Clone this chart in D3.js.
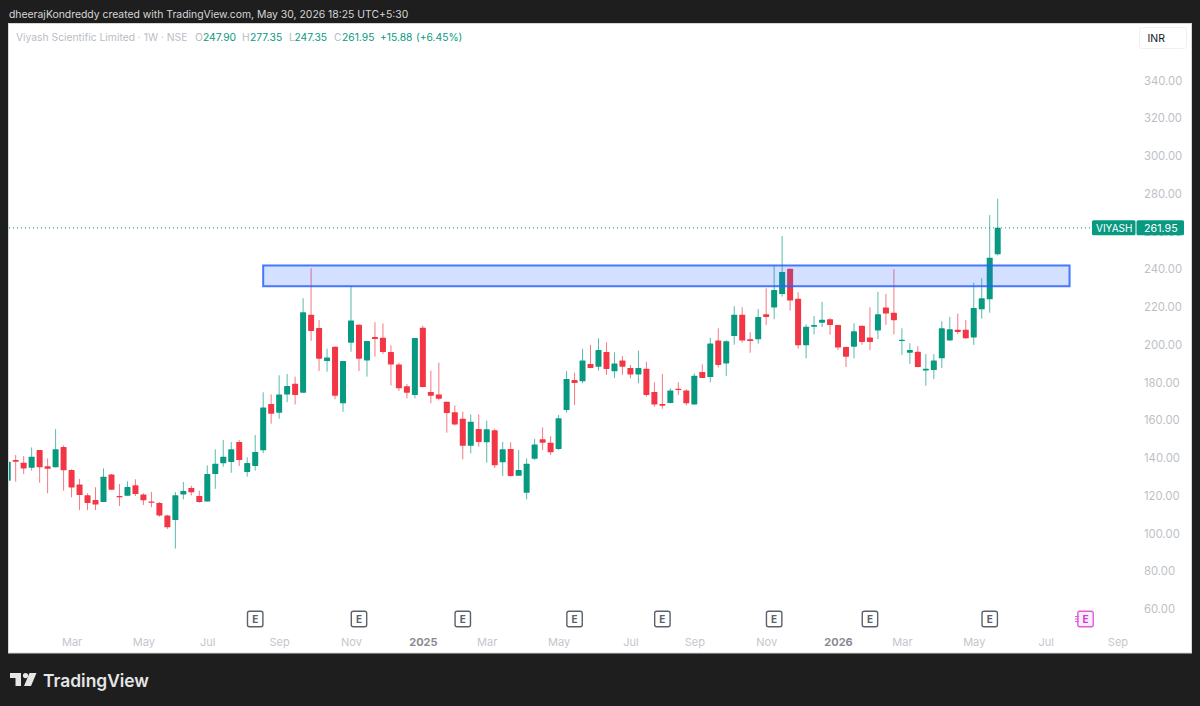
<!DOCTYPE html>
<html>
<head>
<meta charset="utf-8">
<script src="https://cdn.jsdelivr.net/npm/d3@7/dist/d3.min.js"></script>
<style>
  html, body { margin: 0; padding: 0; background: #1e1e1e; }
  svg { display: block; font-family: Inter, "Noto Sans", sans-serif; }
</style>
</head>
<body>
<script>
// weekly candles, bar 0 = Jan 2024, last bar = week of May 25 2026
const opens = [128.0,138.9,137.5,134.9,144.2,135.6,135.1,145.8,133.6,125.9,120.2,117.7,116.7,131.3,119.9,120.0,125.5,120.7,117.0,116.2,109.6,107.1,120.7,124.1,119.9,
  116.9,131.5,137.2,137.9,148.5,132.6,135.8,144.1,168.6,164.0,173.6,179.4,174.6,215.9,208.9,191.4,199.0,169.0,201.1,210.6,191.7,204.1,203.7,196.2,189.6,
  178.0,173.4,209.0,175.0,173.6,169.8,164.2,160.8,146.5,155.4,148.3,154.7,137.7,144.8,130.6,121.6,139.6,149.9,148.1,144.8,165.4,181.3,180.6,189.8,188.4,
  196.2,185.9,191.6,187.7,184.3,187.3,175.0,168.6,169.1,176.7,175.7,168.4,185.6,182.9,202.3,190.1,204.6,215.9,202.9,202.9,216.1,219.8,226.9,240.3,224.4,
  199.7,209.6,211.7,213.5,210.5,198.8,199.0,210.1,203.8,207.6,219.8,217.0,202.0,195.8,196.3,186.3,186.6,192.8,202.3,208.0,208.0,203.9,218.8,224.1,247.9];
const highs = [139.5,141.6,141.0,145.6,144.2,139.8,155.3,146.7,134.0,128.9,121.3,124.5,134.5,131.5,126.2,127.6,128.7,121.3,122.0,116.7,110.0,122.0,127.3,125.3,122.7,
  136.1,144.6,149.5,148.5,149.5,140.4,152.2,174.8,173.7,183.8,184.5,183.1,224.6,240.5,213.1,197.9,199.0,191.4,231.1,210.8,202.0,211.9,211.3,199.7,190.5,
  179.2,203.6,210.1,186.3,190.5,169.8,167.9,164.5,163.1,163.1,159.8,155.5,148.5,148.3,144.2,139.8,150.1,156.2,151.5,162.8,186.1,185.2,197.9,199.9,203.4,
  201.3,196.0,194.0,189.3,196.9,191.0,180.1,184.5,176.9,180.1,176.4,184.9,189.6,203.7,208.7,202.5,220.5,219.8,206.6,218.9,229.9,241.7,257.6,240.3,227.8,
  210.8,215.2,222.7,214.0,210.6,199.0,211.4,210.1,219.8,228.1,226.9,240.0,208.7,200.8,199.3,195.1,195.1,212.4,214.7,216.5,213.1,232.9,235.2,268.7,277.35];
const lows = [127.5,127.5,131.5,133.3,126.9,121.3,135.0,122.7,119.2,112.4,112.4,112.4,116.7,123.0,114.6,119.9,119.9,115.1,113.9,108.9,102.4,92.0,118.1,120.2,116.3,
  116.9,123.7,135.4,132.2,135.8,130.1,133.3,142.5,158.2,160.8,169.5,168.4,174.6,202.0,186.1,185.7,171.1,164.5,196.3,186.1,183.1,193.7,195.1,178.5,175.5,
  171.6,171.6,177.4,169.0,170.6,153.4,157.3,139.3,142.5,146.0,137.5,134.7,130.5,130.1,130.5,118.1,138.9,144.2,141.6,144.2,164.0,168.1,179.6,187.5,186.3,
  184.1,182.4,184.1,182.2,179.6,172.5,167.2,166.1,169.0,173.4,167.9,168.3,182.4,180.1,187.9,183.4,200.0,201.1,195.8,200.6,210.5,213.5,225.5,218.1,197.9,
  192.8,205.5,209.4,205.3,197.2,188.2,192.8,200.0,197.1,203.0,210.5,205.5,194.6,189.8,188.0,178.3,181.7,187.7,202.2,205.5,203.2,199.9,213.8,217.0,247.35];
const closes = [138.0,138.0,134.5,140.7,135.1,134.3,144.7,133.5,124.4,120.4,116.2,115.3,130.1,123.2,119.2,124.6,120.9,117.6,116.3,109.6,103.3,120.2,122.5,121.8,116.7,
  131.5,137.0,140.7,144.6,138.9,137.3,143.2,166.7,163.5,173.6,178.1,173.4,217.2,207.3,192.6,193.3,173.0,191.4,212.9,192.6,202.0,203.0,196.2,189.6,176.9,
  174.6,203.6,177.6,173.0,171.4,163.8,157.8,146.5,159.2,148.5,155.2,136.1,144.6,130.5,133.6,137.0,147.2,148.1,143.0,161.0,181.9,179.7,191.7,187.7,197.2,
  187.2,190.1,188.4,184.3,187.7,173.4,168.3,167.7,175.7,176.0,169.0,183.6,182.4,200.6,189.3,201.8,215.9,202.2,202.0,214.7,214.7,229.0,238.6,223.4,199.7,
  209.6,210.5,213.3,210.5,198.5,193.7,207.1,201.5,201.5,216.1,216.5,213.0,202.7,197.2,188.2,187.3,191.7,208.7,208.2,206.8,203.4,219.5,224.6,246.1,261.95];

const priceTicks = [60,80,100,120,140,160,180,200,220,240,260,280,300,320,340];
const timeTickBars = [8,17,25,34,43,52,60,69,78,86,95,104,112,121,130,139];
const timeTickLabels = ['Mar','May','Jul','Sep','Nov','2025','Mar','May','Jul','Sep','Nov','2026','Mar','May','Jul','Sep'];
const yearLabels = ['2025','2026'];
const earningsBars = [31,44,57,71,82,96,108,123];
const nextEarningsBar = 135;
const zoneTop = 242, zoneBottom = 231, zoneStartBar = 32, zoneEndBar = 133;
const lastPrice = 261.95;

const bars = d3.range(opens.length);
const green = '#089981', red = '#f23645';

const svg = d3.select('body').append('svg')
  .attr('width', 1200)
  .attr('height', 706);

const x = d3.scaleLinear().domain([0, 124]).range([7.7, 997.7]);
const y = d3.scaleLinear().domain([60, 340]).range([609, 80.5]);

// panel
svg.append('rect').attr('width', 1200).attr('height', 706).attr('fill', '#1e1e1e');
svg.append('rect')
  .attr('x', 8.5).attr('y', 23.5)
  .attr('width', 1183).attr('height', 629.5)
  .attr('fill', '#fff')
  .attr('stroke', '#d6d6d6');

svg.append('clipPath').attr('id', 'pane')
  .append('rect').attr('x', 9).attr('y', 24).attr('width', 1182).attr('height', 629);

svg.append('text')
  .attr('x', 9).attr('y', 17.5)
  .attr('fill', '#d6d6d6')
  .attr('font-size', 10.4)
  .text('dheerajKondreddy created with TradingView.com, May 30, 2026 18:25 UTC+5:30');

const pane = svg.append('g').attr('clip-path', 'url(#pane)');

// last price line
pane.append('line')
  .attr('x1', 9).attr('x2', 1092)
  .attr('y1', y(lastPrice)).attr('y2', y(lastPrice))
  .attr('stroke', green)
  .attr('stroke-width', 1)
  .attr('stroke-dasharray', '1 3');

// candles
const candle = pane.selectAll('.candle').data(bars).enter().append('g')
  .attr('class', 'candle')
  .attr('fill', i => closes[i] >= opens[i] ? green : red)
  .attr('stroke', i => closes[i] >= opens[i] ? green : red);

candle.append('line')
  .attr('x1', i => x(i)).attr('x2', i => x(i))
  .attr('y1', i => y(highs[i])).attr('y2', i => y(lows[i]))
  .attr('stroke-width', 0.9)
  .attr('stroke-opacity', 0.75);

candle.append('rect')
  .attr('x', i => x(i) - 3)
  .attr('width', 6)
  .attr('y', i => y(Math.max(opens[i], closes[i])))
  .attr('height', i => Math.max(1.2, Math.abs(y(opens[i]) - y(closes[i]))))
  .attr('rx', 0.6)
  .attr('stroke', 'none');

// supply zone
pane.append('rect')
  .attr('x', x(zoneStartBar)).attr('width', x(zoneEndBar) - x(zoneStartBar))
  .attr('y', y(zoneTop)).attr('height', y(zoneBottom) - y(zoneTop))
  .attr('fill', 'rgba(41,98,255,0.2)')
  .attr('stroke', '#2962ff')
  .attr('stroke-opacity', 0.85)
  .attr('stroke-width', 2);

// price axis
const priceAxis = svg.append('g')
  .attr('transform', 'translate(1144,0)')
  .call(d3.axisRight(y).tickValues(priceTicks).tickSize(0).tickPadding(0).tickFormat(d => d.toFixed(2)));
priceAxis.select('.domain').remove();
priceAxis.selectAll('text')
  .attr('fill', '#bdbfc6')
  .attr('font-family', 'Inter, sans-serif')
  .attr('font-size', 11.3);

// time axis
const timeAxis = svg.append('g')
  .attr('transform', 'translate(0,638.5)')
  .call(d3.axisBottom(x).tickValues(timeTickBars).tickSize(0).tickPadding(0)
    .tickFormat((d, i) => timeTickLabels[i]));
timeAxis.select('.domain').remove();
timeAxis.selectAll('text')
  .attr('fill', d => yearLabels.includes(timeTickLabels[timeTickBars.indexOf(d)]) ? '#888b94' : '#c4c6cd')
  .attr('font-weight', d => yearLabels.includes(timeTickLabels[timeTickBars.indexOf(d)]) ? 700 : 400)
  .attr('font-family', 'Inter, sans-serif')
  .attr('font-size', 11);

// earnings markers
const eMark = svg.selectAll('.earn').data(earningsBars).enter().append('g')
  .attr('class', 'earn')
  .attr('transform', d => `translate(${x(d)},619)`);
eMark.append('rect')
  .attr('x', -7.7).attr('y', -7.7).attr('width', 15.4).attr('height', 15.4).attr('rx', 2)
  .attr('fill', '#fff').attr('stroke', '#5d606b').attr('stroke-width', 1.4);
eMark.append('text')
  .attr('text-anchor', 'middle').attr('y', 3.6)
  .attr('fill', '#5d606b').attr('font-size', 10).attr('font-weight', 700)
  .text('E');

const nextMark = svg.append('g').attr('transform', `translate(${x(nextEarningsBar)},619)`);
nextMark.append('rect')
  .attr('x', -7.7).attr('y', -7.7).attr('width', 15.4).attr('height', 15.4).attr('rx', 2)
  .attr('fill', '#fbeefb').attr('stroke', '#e05be0').attr('stroke-width', 1.4);
nextMark.append('text')
  .attr('text-anchor', 'middle').attr('y', 3.6)
  .attr('fill', '#c93fd0').attr('font-size', 10).attr('font-weight', 700)
  .text('E');
nextMark.selectAll('line').data([-2.5, 0, 2.5]).enter().append('line')
  .attr('x1', -10.5).attr('x2', -6.5)
  .attr('y1', d => d).attr('y2', d => d)
  .attr('stroke', '#e05be0').attr('stroke-width', 1);

// legend line
const legendParts = [
  [16, 'Viyash Scientific Limited · 1W · NSE', '#b9bcc4'],
  [195, 'O', '#b9bcc4'], [203, '247.90', green],
  [242, 'H', '#b9bcc4'], [250, '277.35', green],
  [289, 'L', '#b9bcc4'], [294.5, '247.35', green],
  [334, 'C', '#b9bcc4'], [342, '261.95', green],
  [380, '+15.88', green], [416, '(+6.45%)', green]
];
svg.selectAll('.legend').data(legendParts).enter().append('text')
  .attr('class', 'legend')
  .attr('x', d => d[0]).attr('y', 40.5)
  .attr('fill', d => d[2])
  .attr('font-size', 10.3)
  .text(d => d[1]);

// INR box
svg.append('rect')
  .attr('x', 1139.5).attr('y', 27.5).attr('width', 47).attr('height', 21).attr('rx', 3)
  .attr('fill', '#fff').attr('stroke', '#f0f0f0');
svg.append('text')
  .attr('x', 1147.5).attr('y', 42)
  .attr('fill', '#131722').attr('font-size', 10.5)
  .text('INR');

// last price tag
const tag = svg.append('g').attr('transform', `translate(0,${y(lastPrice)})`);
tag.append('rect').attr('x', 1092).attr('y', -7.5).attr('width', 43.5).attr('height', 15).attr('rx', 1.5).attr('fill', green);
tag.append('rect').attr('x', 1136.5).attr('y', -7.5).attr('width', 47.5).attr('height', 15).attr('rx', 1.5).attr('fill', green);
tag.append('text').attr('x', 1096).attr('y', 4).attr('fill', '#fff').attr('font-size', 10).text('VIYASH');
tag.append('text').attr('x', 1144).attr('y', 4).attr('fill', '#fff').attr('font-size', 10.7).text('261.95');

// footer logo
const logo = svg.append('g').attr('fill', '#e6e6e6');
logo.append('path').attr('d', 'M10 673H21V686H15.5V678H10Z');
logo.append('circle').attr('cx', 25.5).attr('cy', 675.6).attr('r', 2.6);
logo.append('path').attr('d', 'M29.5 673H36.5L31 686H24Z');
logo.append('text')
  .attr('x', 43).attr('y', 686.5)
  .attr('font-size', 17.4).attr('font-weight', 600)
  .text('TradingView');
</script>
</body>
</html>
